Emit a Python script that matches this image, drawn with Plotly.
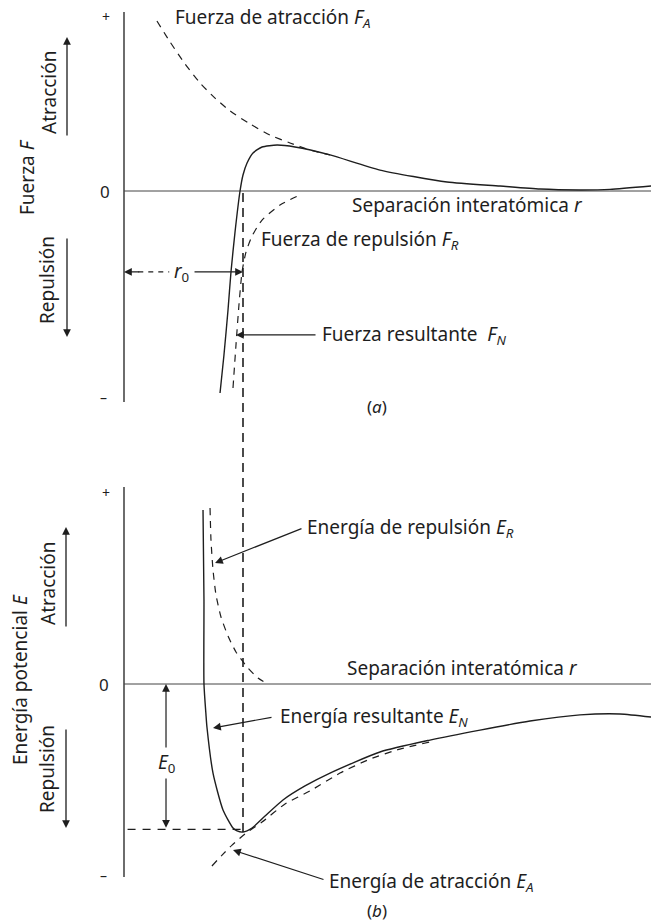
import plotly.graph_objects as go

# ---------------- data (r in units of r0, F and E in arbitrary units) ----------------
# (a) force curves
fn_r = [0.807, 0.840, 0.874, 0.899, 0.933, 0.975, 1.000, 1.034, 1.084, 1.160, 1.286, 1.437,
        1.731, 2.151, 2.714, 3.160, 3.496, 3.832, 4.084, 4.429]
fn_f = [-1.148, -0.932, -0.676, -0.460, -0.233, 0.000, 0.091, 0.159, 0.216, 0.250, 0.261, 0.250,
        0.205, 0.119, 0.051, 0.028, 0.011, 0.006, 0.009, 0.028]

fa_r = [0.277, 0.387, 0.513, 0.639, 0.765, 0.891, 1.059, 1.227, 1.395, 1.563, 1.731]
fa_f = [0.966, 0.847, 0.722, 0.614, 0.528, 0.455, 0.381, 0.318, 0.273, 0.233, 0.205]

fr_r = [0.916, 0.941, 0.966, 0.992, 1.025, 1.076, 1.160, 1.311, 1.496]
fr_f = [-1.119, -0.875, -0.648, -0.460, -0.347, -0.256, -0.165, -0.080, -0.017]

# (b) energy curves
en_r = [0.664, 0.672, 0.672, 0.689, 0.697, 0.748, 0.832, 0.916, 0.950, 1.000, 1.076, 1.185,
        1.336, 1.521, 1.731, 2.151, 2.571, 2.992, 3.412, 3.832, 4.168, 4.429]
en_e = [0.906, 0.438, 0.000, -0.161, -0.224, -0.464, -0.656, -0.750, -0.765, -0.771, -0.750, -0.688,
        -0.604, -0.531, -0.464, -0.354, -0.292, -0.240, -0.193, -0.161, -0.156, -0.172]

ea_r = [0.739, 0.824, 0.908, 1.017, 1.160, 1.353, 1.563, 1.815, 2.067, 2.319, 2.571]
ea_e = [-0.948, -0.891, -0.839, -0.781, -0.719, -0.625, -0.557, -0.464, -0.391, -0.339, -0.302]

er_r = [0.723, 0.731, 0.748, 0.773, 0.815, 0.874, 0.941, 1.034, 1.126, 1.193]
er_e = [0.917, 0.750, 0.594, 0.464, 0.349, 0.250, 0.167, 0.089, 0.031, 0.005]

r0 = 1.0
E0 = -0.757
E_min = -0.771
r_end = 4.429

# ---------------- layout calibration ----------------
W, H = 651, 923
X_RANGE = [-124 / 119, (W - 124) / 119]
F_RANGE = [(191 - 461.5) / 176, 191 / 176]
E_RANGE = [(684 - 923) / 192, (684 - 461.5) / 192]

INK = "#1e1e1e"
FONT = "Noto Sans"
FS = 19

def py_f(f):   # paper y of a force value
    return 0.5 + 0.5 * (f - F_RANGE[0]) / (F_RANGE[1] - F_RANGE[0])

def py_e(e):   # paper y of an energy value
    return 0.5 * (e - E_RANGE[0]) / (E_RANGE[1] - E_RANGE[0])

fig = go.Figure()

def line(x, y, axis, dash=None, width=1.4, color=INK):
    xa, ya = ("x", "y") if axis == 1 else ("x2", "y2")
    fig.add_trace(go.Scatter(x=x, y=y, mode="lines", xaxis=xa, yaxis=ya,
                             line=dict(color=color, width=width, dash=dash, shape="spline", smoothing=0.6),
                             hoverinfo="skip", showlegend=False))

# axes lines (a)
line([0, 0], [1.017, -1.199], 1, width=1.3)
line([0, r_end], [0, 0], 1, width=1.0, color="#444")
# axes lines (b)
line([0, 0], [1.026, -1.005], 2, width=1.3)
line([0, r_end], [0, 0], 2, width=1.0, color="#444")

# curves (a)
line(fn_r, fn_f, 1)
line(fa_r, fa_f, 1, dash="7px,6px", width=1.2)
line(fr_r, fr_f, 1, dash="7px,6px", width=1.2)
# curves (b)
line(en_r, en_e, 2)
line(ea_r, ea_e, 2, dash="7px,6px", width=1.2)
line(er_r, er_e, 2, dash="7px,6px", width=1.2)

# horizontal dashed at the energy minimum
line([0.03, r0], [E0, E0], 2, dash="8px,7px", width=1.3)
# r0 dashed left part
line([0.12, 0.38], [-0.460, -0.460], 1, dash="5px,5px", width=1.2)

# vertical dashed line through r0 across both panels
fig.add_shape(type="line", xref="x", yref="paper", x0=r0, x1=r0,
              y0=py_e(E_min), y1=py_f(-0.01),
              line=dict(color=INK, width=1.6, dash="9px,6px"))

ann = []
def text(x, y, s, ref=1, size=FS, xanchor="left", **kw):
    xr, yr = ("x", "y") if ref == 1 else ("x2", "y2")
    ann.append(dict(x=x, y=y, xref=xr, yref=yr, text=s, showarrow=False,
                    xanchor=xanchor, yanchor="middle",
                    font=dict(family=FONT, size=size, color=INK), **kw))

def arrow(x, y, ax, ay, ref=1, side="end", size=1.3):
    xr, yr = ("x", "y") if ref == 1 else ("x2", "y2")
    ann.append(dict(x=x, y=y, ax=ax, ay=ay, xref=xr, yref=yr, axref=xr, ayref=yr,
                    text="", showarrow=True, arrowhead=2, arrowsize=size, arrowwidth=1.2,
                    arrowcolor=INK, arrowside=side, standoff=0, startstandoff=0))

def ptext(px, py, s, size=FS, angle=0):
    ann.append(dict(x=px / W, y=1 - py / H, xref="paper", yref="paper", text=s,
                    showarrow=False, textangle=angle, xanchor="center", yanchor="middle",
                    font=dict(family=FONT, size=size, color=INK)))

def parrow(px, py, dy):
    ann.append(dict(x=px / W, y=1 - py / H, xref="paper", yref="paper", text="",
                    showarrow=True, ax=0, ay=dy, arrowhead=2, arrowsize=1.2,
                    arrowwidth=1.3, arrowcolor=INK, standoff=0))

# ---- panel (a) texts ----
text(0.412, 0.983, "Fuerza de atracción <i>F</i><sub><i>A</i></sub>")
text(1.899, -0.080, "Separación interatómica <i>r</i>")
text(1.134, -0.278, "Fuerza de repulsión <i>F</i><sub><i>R</i></sub>")
text(1.647, -0.818, "Fuerza resultante  <i>F</i><sub><i>N</i></sub>")
arrow(0.941, -0.818, 1.622, -0.818)
# r0 arrows
arrow(0.0, -0.460, 0.14, -0.460)
arrow(r0, -0.460, 0.58, -0.460)
text(0.479, -0.460, "<i>r</i><sub>0</sub>", xanchor="center")
text(2.126, -1.227, "(<i>a</i>)", xanchor="center", size=17)

# ---- panel (b) texts ----
text(1.857, 0.083, "Separación interatómica <i>r</i>", ref=2)
text(1.52, 0.8125, "Energía de repulsión <i>E</i><sub><i>R</i></sub>", ref=2)
arrow(0.765, 0.630, 1.504, 0.8125, ref=2)
text(1.294, -0.172, "Energía resultante <i>E</i><sub><i>N</i></sub>", ref=2)
arrow(0.748, -0.229, 1.252, -0.172, ref=2)
text(1.706, -1.031, "Energía de atracción <i>E</i><sub><i>A</i></sub>", ref=2)
arrow(0.916, -0.865, 1.689, -1.021, ref=2)
text(2.126, -1.180, "(<i>b</i>)", ref=2, xanchor="center", size=17)
# E0 double arrow
arrow(0.353, 0.0, 0.353, E0, ref=2, side="end+start")
text(0.353, -0.411, "<i>E</i><sub>0</sub>", ref=2, xanchor="center", bgcolor="white")

# ---- left side labels ----
ptext(106, 16, "+", size=14)
ptext(105, 191, "0", size=17)
ptext(103, 397, "–", size=14)
ptext(106, 493, "+", size=14)
ptext(104, 684, "0", size=17)
ptext(103, 875, "–", size=14)

ptext(27, 177, "Fuerza <i>F</i>", angle=-90)
ptext(49, 92, "Atracción", angle=-90)
ptext(47, 280, "Repulsión", angle=-90)
ptext(20, 680, "Energía potencial <i>E</i>", angle=-90)
ptext(48, 583, "Atracción", angle=-90)
ptext(47, 769, "Repulsión", angle=-90)

parrow(67, 37, 100)
parrow(67, 337, -100)
parrow(66, 527, 101)
parrow(66, 828, -100)

fig.update_layout(
    width=W, height=H, margin=dict(l=0, r=0, t=0, b=0),
    paper_bgcolor="white", plot_bgcolor="white",
    annotations=ann,
    xaxis=dict(domain=[0, 1], range=X_RANGE, visible=False, fixedrange=True),
    yaxis=dict(domain=[0.5, 1], range=F_RANGE, visible=False, fixedrange=True),
    xaxis2=dict(domain=[0, 1], range=X_RANGE, visible=False, fixedrange=True, anchor="y2"),
    yaxis2=dict(domain=[0, 0.5], range=E_RANGE, visible=False, fixedrange=True, anchor="x2"),
)

fig.write_html("out.html", config={"staticPlot": True},
               post_script="document.body.style.margin='0';document.body.style.overflow='hidden';")
